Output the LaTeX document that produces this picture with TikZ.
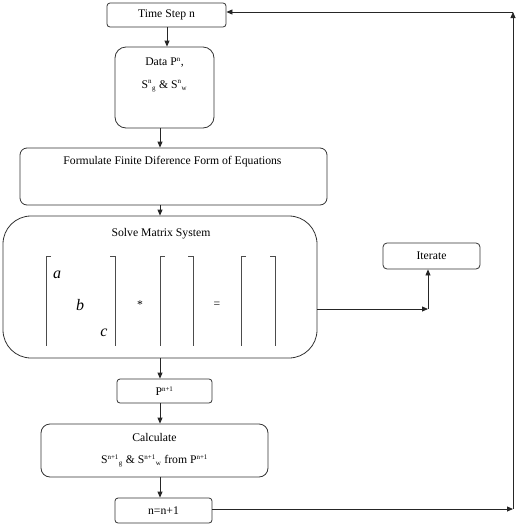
\documentclass[tikz,border=0pt]{standalone}
\usepackage{fontspec}
\setmainfont{Liberation Serif}
\usetikzlibrary{arrows.meta}
\newcommand{\sps}[1]{\textsuperscript{\fontsize{7}{8}\selectfont #1}}
\newcommand{\sbs}[1]{\textsubscript{\fontsize{7}{8}\selectfont #1}}
\begin{document}
\begin{tikzpicture}[x=1pt,y=-1pt,
  box/.style={draw=black!80, line width=0.8pt, rectangle, inner sep=0pt},
  lbl/.style={font=\fontsize{11.7}{13}\selectfont, inner sep=0pt},
  conn/.style={draw=black!85, line width=0.8pt},
  arr/.style={conn, -{Triangle[length=6pt,width=5pt]}},
  brk/.style={draw=black!70, line width=0.7pt},
  mlet/.style={font=\fontsize{16}{18}\selectfont\itshape, inner sep=0pt}
]
\useasboundingbox (0,0) rectangle (520,528);
% boxes
\node[box, rounded corners=3pt, minimum width=119pt, minimum height=24pt] (time) at (166.5,15) {};
\node[box, rounded corners=11pt, minimum width=99pt, minimum height=81pt] (data) at (164.5,87.5) {};
\node[box, rounded corners=7pt, minimum width=307pt, minimum height=57pt] (form) at (173.5,176.5) {};
\node[box, rounded corners=28pt, minimum width=314pt, minimum height=142pt] (solve) at (160,287) {};
\node[box, rounded corners=4pt, minimum width=97pt, minimum height=26pt] (iter) at (431.5,256) {};
\node[box, rounded corners=3pt, minimum width=95pt, minimum height=24pt] (pbox) at (164.5,391) {};
\node[box, rounded corners=9pt, minimum width=227pt, minimum height=53pt] (calc) at (154.5,450.5) {};
\node[box, rounded corners=3pt, minimum width=97pt, minimum height=25pt] (inc) at (163.5,510.5) {};
% texts
\node[lbl] (ttime) at (166.5,15) {Time Step n};
\node[lbl] (tdata1) at (164.5,63) {Data P\sps{n},};
\node[lbl] (tdata2) at (164.5,86) {S\sps{n}\sbs{g} \& S\sps{n}\sbs{w}};
\node[lbl] (tform) at (172.5,162) {Formulate Finite Diference Form of Equations};
\node[lbl] (tsolve) at (161,234) {Solve Matrix System};
\node[lbl] (titer) at (431.5,256) {Iterate};
\node[lbl] (tp) at (164.5,391) {P\sps{n+1}};
\node[lbl] (tcalc1) at (154.5,437) {Calculate};
\node[lbl] (tcalc2) at (154.5,461) {S\sps{n+1}\sbs{g} \& S\sps{n+1}\sbs{w} from P\sps{n+1}};
\node[lbl] (tinc) at (163.5,510.5) {n=n+1};
% matrix
\draw[brk] (51,256) -- (46,256) -- (46,346);
\draw[brk] (110,256) -- (115,256) -- (115,346);
\draw[brk] (165,256) -- (160,256) -- (160,346);
\draw[brk] (188,256) -- (193,256) -- (193,346);
\draw[brk] (246,256) -- (241,256) -- (241,346);
\draw[brk] (270,256) -- (275,256) -- (275,346);
\node[mlet] (ma) at (57,275) {a};
\node[mlet] (mb) at (80,305) {b};
\node[mlet] (mc) at (104,333) {c};
\node[lbl] (mstar) at (140,305) {*};
\node[lbl] (meq) at (217,305) {=};
% connectors
\coordinate (c1) at (167,27);
\draw[arr] (c1) -- (c1 |- data.north);
\coordinate (c2) at (160,128);
\draw[arr] (c2) -- (c2 |- form.north);
\coordinate (c3) at (160,205);
\draw[arr] (c3) -- (c3 |- solve.north);
\coordinate (c4) at (160,358);
\draw[arr] (c4) -- (c4 |- pbox.north);
\coordinate (c5) at (160,403);
\draw[arr] (c5) -- (c5 |- calc.north);
\coordinate (c6) at (160,477);
\draw[arr] (c6) -- (c6 |- inc.north);
% iterate
\coordinate (s1) at (317,309);
\coordinate (s2) at (428,309);
\draw[arr] (s1) -- (s2);
\draw[arr] (s2) -- (s2 |- iter.south);
% loop
\coordinate (r1) at (513,509);
\coordinate (r2) at (513,12);
\draw[arr] (inc.east |- r1) -- (r1);
\draw[arr] (r1) -- (r2);
\draw[arr] (r2) -- (time.east |- r2);
\end{tikzpicture}
\end{document}
